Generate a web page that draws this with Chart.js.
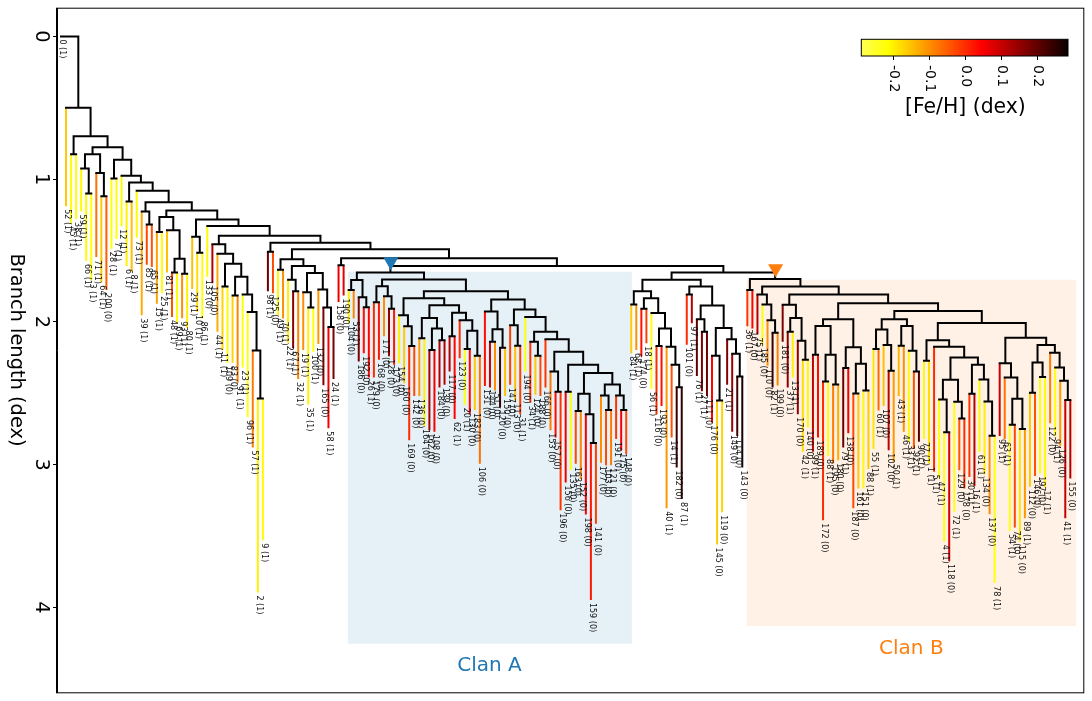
<!DOCTYPE html>
<html>
<head>
<meta charset="utf-8">
<title>Branch length dendrogram</title>
<script src="https://cdn.jsdelivr.net/npm/chart.js@4"></script>
<style>
  html, body { margin: 0; padding: 0; background: #fff; }
  #wrap { position: relative; width: 1092px; height: 701px; overflow: hidden; }
  #tree { position: absolute; left: 0; top: 0; }
  #fe-bar { position: absolute; left: 850px; top: 30px; }
</style>
</head>
<body>
<div id="wrap">
  <canvas id="tree" width="1092" height="701"></canvas>
  <canvas id="fe-bar" width="230" height="100"></canvas>
</div>
<script>
// ============================================================
// DENDROGRAM OF STARS, COLOURED BY [Fe/H]
// ============================================================

// Merge tree pieces: [merge depth, left, right]. A plain number is a leaf id.
const clanA8 = [2.358, [2.504, [2.624, 163, 152], [2.647, 198, [2.848, 159, 141]]], [2.439, [2.516, 177, [2.617, 103, 121]], [2.516, 191, [2.617, 175, 148]]]];
const clanA7 = [2.209, [2.347, 153, [2.49, 157, 196]], [2.3, [2.49, 156, 135], clanA8]];
const clanA6 = [1.966, 194, [2.07, [2.139, 34, [2.238, 124, 188]], [2.121, 166, clanA7]]];
const clanA5 = [1.843, [1.927, 131, [2.051, [2.139, 144, 51], [2.181, 120, 150]]], [1.913, [2.024, 147, [2.167, 113, 31]], clanA6]];
const clanA4 = [1.834, [1.954, 154, [2.03, 160, [2.169, 169, 142]]], [1.883, [1.973, [2.114, 136, 164], [2.046, [2.197, 162, 108], [2.128, 184, 139]]], [1.936, [2.1, 117, 62], [1.989, 123, [2.063, [2.19, 20, 130], [2.238, 183, 106]]]]]];
const clanA = [1.654, [1.707, [1.776, 104, 53], [1.827, 186, [1.897, 192, 26]]], [1.703, [1.751, [1.862, 179, 168], [1.82, 171, [1.908, 128, 173]]], [1.785, clanA4, clanA5]]];

const clanB1 = [1.88, 181, [1.973, [2.07, 37, 13], [2.132, 170, [2.266, 42, 140]]]];
const clanB2 = [1.982, [2.028, [2.231, 99, 189], [2.231, [2.417, 172, 88], [2.439, 195, 180]]], [2.178, [2.323, 79, 138], [2.294, [2.502, 187, 161], [2.481, 151, 88]]]];
const clanB3 = [1.982, [2.053, [2.19, 55, 60], [2.162, 107, [2.342, 102, 50]]], [2.028, [2.167, 43, 46], [2.202, 33, [2.347, 92, 90]]]];
const clanB4 = [2.128, [2.273, 77, 1], [2.174, 5, [2.25, [2.405, [2.543, 47, [2.774, 4, 118]], [2.559, 72, [2.677, 129, 178]]], [2.3, [2.504, 30, 16], [2.403, 61, [2.557, 134, [2.798, 137, 78]]]]]]];
const clanB5 = [2.112, [2.289, 95, [2.389, 63, [2.538, [2.721, 54, 74], [2.751, 115, 89]]]], [2.162, [2.285, [2.497, 112, 146], [2.386, 197, 17]], [2.216, 122, [2.319, 94, [2.412, 126, [2.548, 41, 155]]]]]];
const clanB = [1.7, [1.776, 36, 167], [1.753, [1.809, 75, [1.878, 185, [1.989, 110, [2.077, 82, 199]]]], [1.809, clanB1, [1.869, clanB2, [1.924, clanB3, [2.008, clanB4, clanB5]]]]]];

const betweenClans = [1.705, [1.785, [1.878, 84, 68], [1.834, [1.908, 174, 18], [1.938, 56, [2.046, [2.169, 116, 193], [2.174, 40, [2.3, 14, [2.458, 182, 87]]]]]]], [1.753, [1.809, 101, 97], [1.885, [1.982, 76, [2.07, 27, 111]], [2.042, [2.238, 176, [2.55, 145, 119]], [2.121, 21, [2.224, 149, [2.382, 114, 143]]]]]]];

const longTail = [1.522, 44, [1.592, [1.753, 11, 109], [1.684, [1.816, 83, 91], [1.809, 23, [1.93, 96, [2.2, 57, [2.537, 2, 9]]]]]]];
const midGroup = [1.561, [1.635, 49, 70], [1.608, [1.705, 22, [1.786, 67, 32]], [1.658, [1.793, 19, [1.9, 35, 100]], [1.774, 132, [1.9, 165, [2.035, 58, 24]]]]]];
const centre = [1.446, [1.509, 98, 125], [1.492, midGroup, [1.554, [1.603, 158, 190], [1.608, clanA, [1.654, betweenClans, clanB]]]]];
const upper = [1.162, [1.227, 39, [1.317, 85, 65]], [1.22, [1.266, [1.37, 15, 25], [1.358, 81, [1.557, [1.654, 48, 69], [1.663, 93, 80]]]], [1.282, [1.404, 29, [1.515, 10, 86]], [1.328, 133, [1.397, [1.457, 105, longTail], centre]]]]];
const branchTree = [0, 0, [0.5, 52, [0.7, [0.825, 45, 38], [0.776, [0.825, [0.926, 59, [1.1, 66, 3]], [0.957, 71, [1.12, 64, 200]]], [0.864, [0.996, 28, 7], [0.977, 12, [1.023, [1.157, 6, 8], [1.081, 73, upper]]]]]]]];

// Per-leaf values, left to right along the tree
const leafTips = [
  0, 1.19, 1.31, 1.28, 1.227, 1.573, 1.71, 1.545, 1.723, 1.777,
  1.488, 1.42, 1.33, 1.608, 1.647, 1.41, 1.954, 1.6, 1.615, 1.873,
  1.8, 1.654, 1.966, 2.01, 1.975, 2.04, 1.77, 1.93, 1.976, 1.684,
  1.73, 2.07, 2.197, 2.287, 2.287, 2.426, 2.32, 2.666, 2.88, 3.895,
  3.53, 1.786, 1.8, 1.954, 1.977, 2.146, 2.185, 2.4, 2.197, 2.578,
  2.21, 2.155, 2.444, 2.746, 2.4, 1.86, 1.816, 2.007, 1.977, 2.277,
  2.22, 2.39, 2.39, 2.266, 2.1, 2.24, 2.3, 2.29, 2.43, 2.83,
  2.52, 2.52, 2.73, 2.76, 2.77, 2.46, 2.44, 2.347, 2.68, 2.255,
  2.58, 2.647, 2.617, 2.994, 2.45, 2.46, 2.48, 2.6, 2.52, 2.44,
  2.55, 2.647, 2.347, 2.567, 2.51, 2.52, 2.46, 2.76, 2.81, 3.32,
  3.125, 3.04, 2.994, 3.1, 3.35, 3.948, 3.414, 2.987, 3.005, 3.005,
  2.82, 2.9, 2.925, 2.22, 2.197, 2.243, 2.15, 2.47, 2.647, 2.59,
  3.305, 2.81, 3.02, 3.24, 2.16, 2.01, 2.38, 2.486, 2.52, 2.705,
  3.56, 3.333, 2.44, 2.77, 2.8, 3.02, 2.03, 2.046, 2.086, 2.16,
  2.308, 2.46, 2.446, 2.14, 2.46, 2.39, 2.647, 2.91, 2.74, 2.91,
  2.81, 3.39, 2.94, 2.99, 2.97, 2.88, 2.78, 3.306, 3.167, 3.167,
  3.03, 2.89, 2.62, 2.59, 2.9, 2.98, 2.52, 2.77, 2.84, 2.89,
  2.84, 2.82, 2.994, 3.05, 3.098, 3.54, 3.675, 3.33, 3.04, 3.167,
  3.086, 3.15, 2.91, 3.07, 3.347, 3.83, 2.8, 2.82, 3.465, 3.44,
  3.54, 3.375, 3.155, 3.08, 3.06, 3.16, 2.71, 2.8, 2.867, 3.375,
  3.098,
];

const leafFe = [
  0, -0.16, -0.22, -0.22, -0.21, -0.21, -0.22, -0.07, -0.16, -0.05,
  -0.22, -0.22, -0.21, -0.2, -0.15, -0.21, -0.13, -0.03, -0.04, -0.12,
  -0.22, -0.15, -0.04, -0.21, -0.1, -0.2, -0.15, -0.18, -0.22, -0.21,
  0.12, -0.13, -0.17, -0.21, -0.17, -0.09, -0.22, -0.23, -0.08, -0.2,
  -0.21, 0.19, -0.03, -0.21, -0.1, -0.2, 0.16, -0.09, -0.1, -0.2,
  -0.22, -0.11, 0.17, 0.05, 0.18, 0.06, 0.07, -0.2, -0.09, 0.17,
  0.03, 0.04, 0, 0.02, -0.1, 0.15, 0.02, -0.2, -0.16, 0,
  -0.03, -0.11, -0.2, 0.13, 0.05, 0.12, 0.11, 0.12, 0.04, 0,
  -0.22, 0.04, -0.16, -0.07, 0.03, 0.1, -0.1, 0.24, -0.15, -0.02,
  -0.15, -0.02, -0.22, -0.01, -0.16, -0.03, -0.01, -0.08, 0.03, -0.01,
  0.06, -0.22, -0.03, -0.09, 0.05, 0.02, -0.02, -0.1, -0.03, -0.08,
  -0.01, 0.05, -0.03, -0.16, -0.1, 0.03, -0.02, -0.23, 0, 0.03,
  -0.11, -0.04, 0.24, 0.25, 0, 0.12, 0.2, 0.17, 0.19, 0.04,
  -0.16, -0.17, 0.17, 0.14, 0.23, 0.27, -0.01, 0.04, 0.12, -0.22,
  -0.1, 0.24, -0.09, 0.17, 0.16, -0.2, 0.15, -0.18, -0.21, 0.1,
  0.03, 0, -0.22, -0.08, -0.13, 0.19, 0.05, -0.03, -0.16, -0.21,
  -0.16, -0.19, -0.06, -0.15, 0.11, -0.11, -0.14, -0.1, -0.21, -0.04,
  0.21, -0.21, -0.18, 0, -0.22, -0.22, 0.09, -0.23, -0.04, 0,
  -0.01, 0.12, -0.21, -0.2, -0.1, -0.22, 0.1, -0.07, -0.23, -0.03,
  -0.19, -0.11, -0.16, -0.04, -0.22, -0.21, -0.08, -0.22, -0.11, 0.1,
  0.12,
];

const leafFlags = [
  1, 1, 1, 1, 1, 1, 1, 1, 1, 0,
  1, 1, 1, 1, 1, 1, 1, 1, 1, 1,
  1, 1, 1, 1, 1, 1, 1, 1, 1, 0,
  0, 1, 1, 0, 0, 1, 1, 1, 1, 1,
  1, 1, 0, 1, 1, 1, 1, 1, 1, 1,
  1, 0, 0, 1, 1, 0, 0, 0, 1, 0,
  0, 1, 0, 0, 0, 0, 0, 0, 0, 0,
  0, 0, 0, 0, 0, 0, 0, 0, 1, 0,
  1, 0, 0, 0, 0, 0, 0, 0, 0, 0,
  0, 1, 0, 1, 0, 0, 0, 0, 0, 0,
  0, 0, 0, 0, 0, 0, 0, 0, 0, 0,
  0, 0, 0, 1, 1, 0, 1, 1, 0, 0,
  1, 1, 0, 1, 0, 1, 1, 1, 0, 0,
  0, 0, 1, 0, 0, 0, 1, 0, 1, 0,
  0, 1, 0, 0, 1, 1, 0, 1, 0, 1,
  0, 0, 1, 0, 0, 1, 0, 0, 0, 0,
  1, 1, 1, 0, 0, 1, 1, 1, 1, 1,
  1, 1, 1, 1, 1, 1, 0, 1, 0, 0,
  1, 1, 1, 0, 0, 1, 1, 1, 1, 0,
  0, 1, 0, 0, 0, 1, 0, 1, 0, 1,
  0,
];

const depthTicks = [0, 1, 2, 3, 4];

// Clan shading, markers and captions (x in leaf positions, y in dex)
const clanNames = ['Clan A', 'Clan B'];
const clanColors = ['#1f77b4', '#ff7f0e'];
const clanFills = ['rgba(31,119,180,0.11)', 'rgba(255,127,14,0.11)'];
const clanLeft = [56.86, 135.83];
const clanRight = [113.13, 201.2];
const clanTop = [1.649, 1.705];
const clanBottom = [4.255, 4.13];
const clanMarkerX = [65.35, 141.6];
const clanMarkerY = [1.577, 1.626];
const clanTextX = [84.9, 168.5];
const clanTextY = [4.407, 4.29];

// Colour scale: light yellow to yellow, red, then nearly black
const feMin = -0.289;
const feMax = 0.285;
const feStops = [-0.289, -0.214, 0.044, 0.285];
const feStopColors = [[255, 255, 85], [255, 255, 0], [255, 0, 0], [10, 0, 0]];
const feTicks = [-0.2, -0.1, 0, 0.1, 0.2];

const FONT = '"DejaVu Sans"';

function feColor(v) {
  let i = 0;
  while (i < feStops.length - 2 && v > feStops[i + 1]) i++;
  const t = Math.min(1, Math.max(0, (v - feStops[i]) / (feStops[i + 1] - feStops[i])));
  const rgb = feStopColors[i].map((c, n) => Math.round(c + (feStopColors[i + 1][n] - c) * t));
  return `rgb(${rgb.join(',')})`;
}

// Walk the tree left to right, collecting black links and coloured leaf bars
const links = [];
const leaves = [];

function layout(node) {
  if (typeof node === 'number') {
    const k = leaves.length;
    const leaf = { id: node, x: k, isLeaf: true, tip: leafTips[k], fe: leafFe[k], flag: leafFlags[k] };
    leaves.push(leaf);
    return leaf;
  }
  const [depth, a, b] = node;
  const left = layout(a);
  const right = layout(b);
  const x = (left.x + right.x) / 2;
  [left, right].forEach((child) => { child.parentDepth = depth; });
  links.push({ x: left.x, y: depth }, { x: right.x, y: depth }, { x: NaN, y: NaN });
  [left, right].forEach((child) => {
    if (!child.isLeaf) links.push({ x: child.x, y: depth }, { x: child.x, y: child.depth }, { x: NaN, y: NaN });
  });
  return { x, depth };
}
layout(branchTree);

const leafDatasets = leaves
  .filter((l) => l.tip > l.parentDepth)
  .map((l) => ({
    data: [{ x: l.x, y: l.parentDepth }, { x: l.x, y: l.tip }],
    showLine: true,
    borderColor: feColor(l.fe),
    borderWidth: 2,
    pointRadius: 0,
  }));

const clanDatasets = clanNames.map((name, i) => ({
  label: name,
  data: [{ x: clanLeft[i], y: clanTop[i] }, { x: clanRight[i], y: clanTop[i] }],
  showLine: true,
  borderWidth: 0,
  pointRadius: 0,
  backgroundColor: clanFills[i],
  fill: { value: clanBottom[i] },
}));

const markerDatasets = clanNames.map((name, i) => ({
  label: name,
  data: [{ x: clanMarkerX[i], y: clanMarkerY[i] }],
  pointStyle: 'triangle',
  rotation: 180,
  pointRadius: 8.7,
  borderWidth: 0,
  backgroundColor: clanColors[i],
}));

const linkDataset = {
  data: links,
  showLine: true,
  borderColor: '#000',
  borderWidth: 2,
  pointRadius: 0,
  borderCapStyle: 'square',
  spanGaps: false,
};

function turnedText(ctx, text, x, y, align) {
  ctx.save();
  ctx.translate(x, y);
  ctx.rotate(Math.PI / 2);
  ctx.textAlign = align;
  ctx.textBaseline = 'middle';
  ctx.fillText(text, 0, 0);
  ctx.restore();
}

// Frame, leaf captions, clan captions and the turned y title
const treeText = {
  id: 'treeText',
  afterDraw(chart) {
    const { ctx, chartArea: area, scales: { x, y } } = chart;
    ctx.save();
    ctx.strokeStyle = '#000';
    ctx.lineWidth = 1;
    ctx.strokeRect(area.left - 0.5, area.top - 0.5, area.right - area.left + 1, area.bottom - area.top + 1);

    ctx.fillStyle = '#111';
    ctx.font = `8px ${FONT}`;
    leaves.forEach((l) => {
      turnedText(ctx, `${l.id} (${l.flag})`, x.getPixelForValue(l.x) + 1, y.getPixelForValue(l.tip) + 3, 'left');
    });

    ctx.font = `20px ${FONT}`;
    ctx.textAlign = 'center';
    ctx.textBaseline = 'middle';
    clanNames.forEach((name, i) => {
      ctx.fillStyle = clanColors[i];
      ctx.fillText(name, x.getPixelForValue(clanTextX[i]), y.getPixelForValue(clanTextY[i]));
    });

    ctx.fillStyle = '#000';
    ctx.font = `19.4px ${FONT}`;
    turnedText(ctx, 'Branch length (dex)', 16, 350, 'center');
    ctx.restore();
  },
};

new Chart(document.getElementById('tree'), {
  type: 'scatter',
  data: { datasets: [...markerDatasets, linkDataset, ...leafDatasets, ...clanDatasets] },
  options: {
    responsive: false,
    animation: false,
    events: [],
    layout: { padding: { left: 0, right: 5, top: 5, bottom: 5 } },
    plugins: { legend: { display: false }, tooltip: { enabled: false } },
    scales: {
      x: { type: 'linear', display: false, min: -0.79, max: 202.57 },
      y: {
        type: 'linear',
        reverse: true,
        min: -0.194,
        max: 4.595,
        afterBuildTicks: (scale) => { scale.ticks = depthTicks.map((value) => ({ value })); },
        afterFit: (scale) => {
          // rotated tick labels must not push the plot area inward
          scale.width = 57;
          scale.paddingTop = 0;
          scale.paddingBottom = 0;
          scale.paddingLeft = 0;
          scale.paddingRight = 0;
        },
        grid: { drawOnChartArea: false, color: '#000', tickLength: 4 },
        border: { color: '#000' },
        ticks: {
          autoSkip: false,
          color: '#000',
          minRotation: -90,
          maxRotation: -90,
          crossAlign: 'center',
          padding: 6,
          font: { family: 'DejaVu Sans', size: 19.4 },
        },
      },
    },
  },
  plugins: [treeText],
});

// Colour bar: gradient body on its own value axis
const feBarBody = {
  id: 'feBarBody',
  beforeDatasetsDraw(chart) {
    const { ctx, chartArea: area, scales: { x } } = chart;
    const g = ctx.createLinearGradient(area.left, 0, area.right, 0);
    feStops.forEach((v, i) => {
      g.addColorStop((v - feMin) / (feMax - feMin), `rgb(${feStopColors[i].join(',')})`);
    });
    ctx.fillStyle = g;
    ctx.fillRect(area.left, area.top, area.right - area.left, area.bottom - area.top);
    ctx.strokeStyle = '#000';
    ctx.lineWidth = 1;
    ctx.strokeRect(area.left, area.top, area.right - area.left, area.bottom - area.top);

    ctx.fillStyle = '#000';
    ctx.font = `14px ${FONT}`;
    feTicks.forEach((v) => {
      turnedText(ctx, v.toFixed(1), x.getPixelForValue(v), area.bottom + 9, 'left');
    });
    ctx.font = `20.4px ${FONT}`;
    ctx.textAlign = 'center';
    ctx.textBaseline = 'middle';
    ctx.fillText('[Fe/H] (dex)', x.getPixelForValue(0), 78);
  },
};

new Chart(document.getElementById('fe-bar'), {
  type: 'scatter',
  data: { datasets: [{ data: [] }] },
  options: {
    responsive: false,
    animation: false,
    events: [],
    layout: { padding: { left: 11.3, right: 12, top: 9.3, bottom: 0 } },
    plugins: { legend: { display: false }, tooltip: { enabled: false } },
    scales: {
      x: {
        type: 'linear',
        position: 'bottom',
        min: feMin,
        max: feMax,
        afterBuildTicks: (scale) => { scale.ticks = feTicks.map((value) => ({ value })); },
        afterFit: (scale) => { scale.height = 74; },
        grid: { drawOnChartArea: false, color: '#000', tickLength: 4 },
        border: { display: false },
        ticks: { display: false },
      },
      y: { display: false, min: 0, max: 1 },
    },
  },
  plugins: [feBarBody],
});
</script>
</body>
</html>
